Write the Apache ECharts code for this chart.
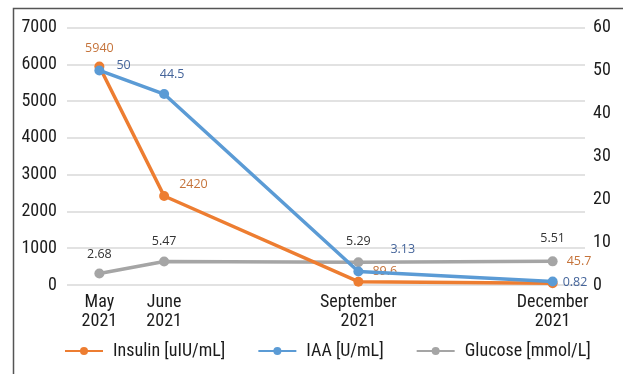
<!DOCTYPE html>
<html>
<head>
<meta charset="utf-8">
<script src="https://cdn.jsdelivr.net/npm/echarts@6/dist/echarts.min.js"></script>
<style>html,body{margin:0;padding:0;background:#fff;}#c{width:623px;height:374px;}</style>
</head>
<body>
<div id="c"></div>
<script>
// Data
var monthNames = ['May', 'June', 'September', 'December'];
var years = ['2021', '2021', '2021', '2021'];
var monthIndex = [5, 6, 9, 12];
var insulin = [5940, 2420, 89.6, 45.7];
var iaa = [50, 44.5, 3.13, 0.82];
var glucose = [2.68, 5.47, 5.29, 5.51];
var seriesNames = ['Insulin [uIU/mL]', 'IAA [U/mL]', 'Glucose [mmol/L]'];

// Label placement (style)
var insulinLabelPos = [
  {position: 'top', offset: [0, -2]},
  {position: 'right', offset: [5, -12]},
  {position: 'right', offset: [4, -10]},
  {position: 'right', offset: [4, -22]}
];
var iaaLabelPos = [
  {position: 'right', offset: [7, -5]},
  {position: 'top', offset: [8, -3]},
  {position: 'right', offset: [22, -22]},
  {position: 'right', offset: [0, 1]}
];
var glucoseLabelPos = [
  {position: 'top', offset: [0, -3]},
  {position: 'top', offset: [0, -4]},
  {position: 'top', offset: [0, -4]},
  {position: 'top', offset: [0, -6]}
];

function build(vals, placement) {
  return vals.map(function (v, i) {
    return {value: [monthIndex[i], v], label: placement[i]};
  });
}

var axisFont = '"Roboto Condensed", Roboto, sans-serif';
var labelFont = '"Open Sans", "Noto Sans", sans-serif';
var textColor = '#1c1c1c';

var chart = echarts.init(document.getElementById('c'), null, {renderer: 'canvas'});
chart.setOption({
  animation: false,
  backgroundColor: '#fff',
  graphic: [{
    type: 'polyline',
    shape: {points: [[13.5, 380], [13.5, 8.5], [630, 8.5]]},
    style: {stroke: '#555', lineWidth: 1.5, fill: null},
    silent: true
  }],
  grid: {left: 67, right: 38, top: 27.5, bottom: 89},
  legend: {
    left: 64, top: 342, padding: 0,
    itemWidth: 38, itemHeight: 10, itemGap: 32,
    textStyle: {fontFamily: axisFont, fontSize: 18, color: textColor, padding: [0, 0, 0, 5]},
    data: seriesNames
  },
  xAxis: {
    type: 'value', min: 4.5, max: 12.5,
    splitLine: {show: false}, axisLine: {show: false}, axisTick: {show: false},
    axisLabel: {
      customValues: monthIndex,
      margin: 8,
      fontFamily: axisFont, fontSize: 18, color: textColor, lineHeight: 19,
      formatter: function (v) {
        var i = monthIndex.indexOf(v);
        return i >= 0 ? monthNames[i] + '\n' + years[i] : '';
      }
    }
  },
  yAxis: [{
    type: 'value', min: 0, max: 7000, interval: 1000,
    axisLine: {show: false}, axisTick: {show: false},
    splitLine: {lineStyle: {color: '#d9d9d9', width: 1.5}},
    axisLabel: {margin: 10, fontFamily: axisFont, fontSize: 18, color: textColor,
      formatter: function (v) { return String(v); }}
  }, {
    type: 'value', min: 0, max: 60, interval: 10,
    axisLine: {show: false}, axisTick: {show: false},
    splitLine: {show: false},
    axisLabel: {margin: 8, fontFamily: axisFont, fontSize: 18, color: textColor,
      formatter: function (v) { return String(v); }}
  }],
  series: [{
    name: seriesNames[0], type: 'line', yAxisIndex: 0,
    data: build(insulin, insulinLabelPos),
    symbol: 'circle', symbolSize: 10,
    lineStyle: {color: '#ED7D31', width: 3.5},
    itemStyle: {color: '#ED7D31'},
    label: {show: true, fontFamily: labelFont, fontSize: 12.5, color: '#C5733A',
      formatter: function (p) { return String(p.value[1]); }},
    z: 3
  }, {
    name: seriesNames[1], type: 'line', yAxisIndex: 1,
    data: build(iaa, iaaLabelPos),
    symbol: 'circle', symbolSize: 10,
    lineStyle: {color: '#5B9BD5', width: 3.5},
    itemStyle: {color: '#5B9BD5'},
    label: {show: true, fontFamily: labelFont, fontSize: 12.5, color: '#44649A',
      formatter: function (p) { return String(p.value[1]); }},
    z: 4
  }, {
    name: seriesNames[2], type: 'line', yAxisIndex: 1,
    data: build(glucose, glucoseLabelPos),
    symbol: 'circle', symbolSize: 10,
    lineStyle: {color: '#A5A5A5', width: 3.5},
    itemStyle: {color: '#A5A5A5'},
    label: {show: true, fontFamily: labelFont, fontSize: 12.5, color: '#333',
      formatter: function (p) { return String(p.value[1]); }},
    z: 2
  }]
});
</script>
</body>
</html>
